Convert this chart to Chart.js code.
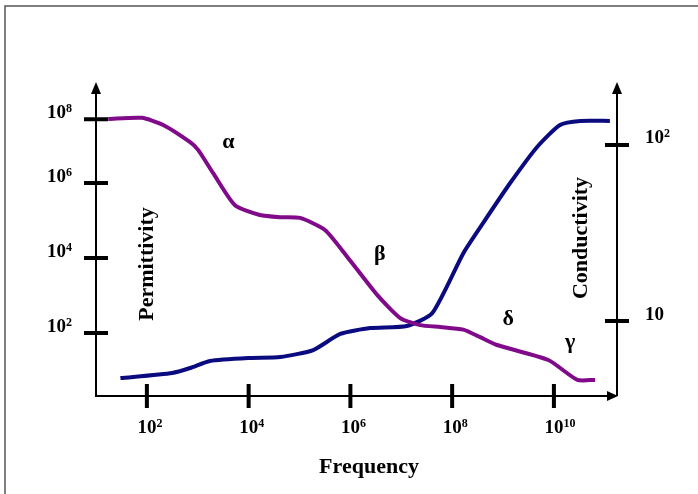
<!DOCTYPE html>
<html>
<head>
<meta charset="utf-8">
<script src="https://cdn.jsdelivr.net/npm/chart.js@4.4.0/dist/chart.umd.min.js"></script>
<style>
  html, body { margin: 0; padding: 0; background: #fff; }
  #wrap { width: 698px; height: 494px; }
</style>
</head>
<body>
<div id="wrap"><canvas id="chart" width="698" height="494"></canvas></div>
<script>
// frequency given in decades (log10 Hz)
const permFreq = [1.24, 1.90, 2.32, 2.85, 3.01, 3.30, 3.73, 4.22, 4.62, 5.01, 5.50, 5.94, 6.53, 6.98, 7.37, 7.77, 8.22, 8.55, 8.88, 9.89, 10.46, 10.81];
const permLog = [7.71, 7.74, 7.55, 7.09, 6.88, 6.27, 5.41, 5.15, 5.09, 5.07, 4.75, 4.03, 3.01, 2.40, 2.21, 2.16, 2.09, 1.89, 1.68, 1.28, 0.75, 0.75];
const condFreq = [1.48, 2.50, 2.85, 3.24, 4.03, 4.62, 5.27, 5.80, 6.39, 7.11, 7.61, 8.22, 8.61, 9.14, 9.67, 10.12, 10.52, 11.10];
const condVal = [4.74, 5.07, 5.41, 5.93, 6.17, 6.24, 6.84, 8.44, 9.12, 9.37, 11.1, 24.3, 36.1, 60.8, 97.5, 130, 137, 137];

const freqTicks = [2, 4, 6, 8, 10];
// the sketch squeezes its top decade, the 10^8 mark sits on the plateau
const permTicks = [2, 4, 6, 7.7];
const permTickLabels = ['2', '4', '6', '8'];
const condTicks = [10, 100];
const condTickLabels = [['10', ''], ['10', '2']];
const regionNames = ['α', 'β', 'δ', 'γ'];

const SERIF = '"Liberation Serif", "Times New Roman", serif';

function drawPow(ctx, base, exp, x, y, align) {
  ctx.font = 'bold 19px ' + SERIF;
  const wb = ctx.measureText(base).width;
  ctx.font = 'bold 12px ' + SERIF;
  const we = exp ? ctx.measureText(exp).width : 0;
  let left = x;
  if (align === 'right') left = x - wb - we;
  if (align === 'centerBase') left = x - wb / 2;
  ctx.textAlign = 'left';
  ctx.textBaseline = 'alphabetic';
  ctx.font = 'bold 19px ' + SERIF;
  ctx.fillText(base, left, y);
  if (exp) {
    ctx.font = 'bold 12px ' + SERIF;
    ctx.fillText(exp, left + wb, y - 6);
  }
}

const sketchAxes = {
  id: 'sketchAxes',
  beforeDraw(chart) {
    const ctx = chart.ctx;
    ctx.save();
    ctx.fillStyle = '#fff';
    ctx.fillRect(0, 0, chart.width, chart.height);
    // page frame (top and left edges only)
    ctx.strokeStyle = '#555';
    ctx.lineWidth = 1.5;
    ctx.beginPath();
    ctx.moveTo(5, chart.height);
    ctx.lineTo(5, 6);
    ctx.lineTo(chart.width, 6);
    ctx.stroke();
    ctx.restore();
  },
  beforeDatasetsDraw(chart) {
    const ctx = chart.ctx;
    const a = chart.chartArea;
    const xs = chart.scales.x, yp = chart.scales.yPerm, yc = chart.scales.yCond;
    ctx.save();
    ctx.strokeStyle = '#000';
    ctx.fillStyle = '#000';
    ctx.lineWidth = 2;
    ctx.beginPath();
    ctx.moveTo(a.left, a.top + 10);
    ctx.lineTo(a.left, a.bottom);
    ctx.lineTo(a.right - 8, a.bottom);
    ctx.moveTo(a.right, a.bottom);
    ctx.lineTo(a.right, a.top + 10);
    ctx.stroke();
    // arrow heads
    const tri = (p) => { ctx.beginPath(); ctx.moveTo(p[0], p[1]); ctx.lineTo(p[2], p[3]); ctx.lineTo(p[4], p[5]); ctx.closePath(); ctx.fill(); };
    tri([a.left, a.top - 1, a.left - 5, a.top + 11, a.left + 5, a.top + 11]);
    tri([a.right, a.top - 1, a.right - 5, a.top + 11, a.right + 5, a.top + 11]);
    tri([a.right + 1, a.bottom, a.right - 10, a.bottom - 5, a.right - 10, a.bottom + 5]);

    ctx.lineWidth = 4;
    ctx.beginPath();
    permTicks.forEach(v => { const y = yp.getPixelForValue(v); ctx.moveTo(a.left - 12, y); ctx.lineTo(a.left + 12, y); });
    condTicks.forEach(v => { const y = yc.getPixelForValue(v); ctx.moveTo(a.right - 12, y); ctx.lineTo(a.right + 12, y); });
    freqTicks.forEach(v => { const x = xs.getPixelForValue(v); ctx.moveTo(x, a.bottom - 12); ctx.lineTo(x, a.bottom + 12); });
    ctx.stroke();

    permTicks.forEach((v, i) => drawPow(ctx, '10', permTickLabels[i], a.left - 24, yp.getPixelForValue(v) - 1.5, 'right'));
    condTicks.forEach((v, i) => drawPow(ctx, condTickLabels[i][0], condTickLabels[i][1], a.right + 28, yc.getPixelForValue(v) - 1.5, 'left'));
    freqTicks.forEach(v => drawPow(ctx, '10', String(v), xs.getPixelForValue(v), a.bottom + 37, 'centerBase'));

    ctx.font = 'bold 22px ' + SERIF;
    ctx.textAlign = 'center';
    ctx.textBaseline = 'alphabetic';
    ctx.fillText('Frequency', 369, 473);
    ctx.textBaseline = 'middle';
    ctx.save();
    ctx.translate(147, 264);
    ctx.rotate(-Math.PI / 2);
    ctx.fillText('Permittivity', 0, 0);
    ctx.restore();
    ctx.save();
    ctx.translate(581, 238);
    ctx.rotate(-Math.PI / 2);
    ctx.fillText('Conductivity', 0, 0);
    ctx.restore();

    // dispersion region names, anchored in data units
    const anchors = [[3.60, 6.93], [6.58, 3.95], [9.10, 2.21], [10.32, 1.60]];
    ctx.textBaseline = 'alphabetic';
    regionNames.forEach((n, i) => {
      ctx.fillText(n, xs.getPixelForValue(anchors[i][0]), yp.getPixelForValue(anchors[i][1]));
    });
    ctx.restore();
  }
};

new Chart(document.getElementById('chart'), {
  type: 'line',
  data: {
    datasets: [
      {
        label: 'Permittivity',
        data: permFreq.map((f, i) => ({ x: f, y: permLog[i] })),
        yAxisID: 'yPerm',
        borderColor: '#800a8a',
        borderWidth: 4,
        pointRadius: 0,
        tension: 0.2,
        fill: false
      },
      {
        label: 'Conductivity',
        data: condFreq.map((f, i) => ({ x: f, y: condVal[i] })),
        yAxisID: 'yCond',
        borderColor: '#0b0b80',
        borderWidth: 4,
        pointRadius: 0,
        tension: 0.2,
        fill: false
      }
    ]
  },
  options: {
    responsive: false,
    animation: false,
    layout: { padding: { left: 96, top: 83, right: 81, bottom: 98 } },
    scales: {
      x: { type: 'linear', min: 1.0, max: 11.24, display: false },
      yPerm: { type: 'linear', min: 0.32, max: 8.67, display: false },
      yCond: { type: 'logarithmic', min: 3.75, max: 225, display: false }
    },
    plugins: { legend: { display: false }, tooltip: { enabled: false } }
  },
  plugins: [sketchAxes]
});
</script>
</body>
</html>
